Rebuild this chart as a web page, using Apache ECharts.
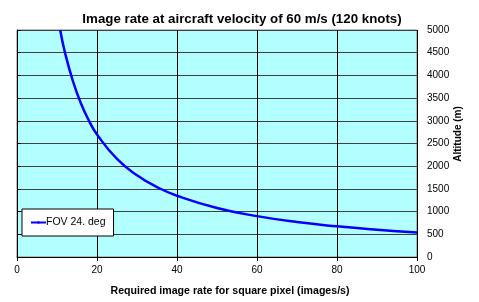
<!DOCTYPE html>
<html>
<head>
<meta charset="utf-8">
<script src="https://cdn.jsdelivr.net/npm/echarts@6/dist/echarts.min.js"></script>
<style>
  html, body { margin: 0; padding: 0; background: #fff; }
  #chart { width: 479px; height: 302px; }
</style>
</head>
<body>
<div id="chart"></div>
<script>
// image rate (images/s) vs altitude (m)
var rates = [10.8, 12, 14, 16, 18, 20, 25, 30, 35, 40, 50, 60, 70, 80, 90, 100];
var altitudes = [5000, 4500, 3870, 3380, 3000, 2700, 2160, 1800, 1540, 1350, 1080, 900, 770, 675, 600, 540];
var seriesName = "FOV 24. deg";

var chart = echarts.init(document.getElementById("chart"));
var font = "Arial, 'Liberation Sans', sans-serif";

var option = {
  animation: false,
  title: {
    text: "Image rate at aircraft velocity of 60 m/s (120 knots)",
    left: 237,
    textAlign: "center",
    top: 8,
    textStyle: { fontFamily: font, fontSize: 13.3, fontWeight: "bold", color: "#000" }
  },
  // y axis title, placed by hand like the original
  graphic: [{
    type: "text",
    x: 458,
    y: 134,
    rotation: Math.PI / 2,
    style: {
      text: "Altitude (m)",
      font: "bold 10px " + font,
      fill: "#000",
      align: "center",
      verticalAlign: "middle"
    }
  }],
  grid: {
    left: 17,
    right: 62,
    top: 30,
    bottom: 40,
    show: true,
    backgroundColor: "#B3FFFF",
    borderColor: "#808080",
    borderWidth: 1
  },
  legend: {
    left: 22,
    top: 209,
    data: [seriesName],
    backgroundColor: "#fff",
    borderColor: "#000",
    borderWidth: 1,
    padding: [8, 8, 8, 8],
    itemWidth: 15,
    itemHeight: 3,
    itemGap: 0,
    textStyle: { fontFamily: font, fontSize: 10.5, color: "#000", padding: [0, 0, 0, -5] }
  },
  xAxis: {
    type: "value",
    min: 0,
    max: 100,
    interval: 20,
    name: "Required image rate for square pixel (images/s)",
    nameLocation: "middle",
    nameGap: 29,
    nameTextStyle: { fontFamily: font, fontSize: 10.6, fontWeight: "bold", color: "#000", padding: [0, 0, 0, 26] },
    axisLine: { lineStyle: { color: "#000", width: 1 } },
    axisTick: { show: true, length: 4, inside: false, lineStyle: { color: "#000" } },
    axisLabel: { fontFamily: font, fontSize: 10, color: "#000", margin: 8 },
    splitLine: { show: true, lineStyle: { color: "#000", width: 1 } }
  },
  yAxis: {
    type: "value",
    position: "right",
    min: 0,
    max: 5000,
    interval: 500,
    axisLine: { show: true, lineStyle: { color: "#000", width: 1 } },
    axisTick: { show: true, length: 4, lineStyle: { color: "#000" } },
    axisLabel: { fontFamily: font, fontSize: 10, color: "#000", margin: 10, formatter: function (v) { return String(v); } },
    splitLine: { show: true, lineStyle: { color: "#404040", width: 1 } }
  },
  series: [{
    name: seriesName,
    type: "line",
    smooth: true,
    showSymbol: false,
    symbol: "none",
    data: rates.map(function (r, i) { return [r, altitudes[i]]; }),
    lineStyle: { color: "#0000FF", width: 2.5 },
    itemStyle: { color: "#0000FF" }
  }]
};

chart.setOption(option);
</script>
</body>
</html>
